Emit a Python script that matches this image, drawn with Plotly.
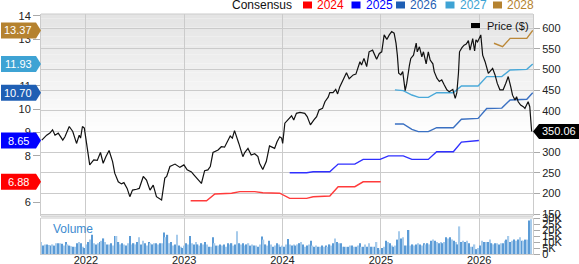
import plotly.graph_objects as go
import pandas as pd

# ---------------- DATA ----------------
price_dates = [
    "2021-07-21", "2021-08-08", "2021-08-20", "2021-08-30", "2021-09-08", "2021-09-20", "2021-10-07",
    "2021-10-15", "2021-10-31", "2021-11-13", "2021-11-27", "2021-12-07", "2021-12-12", "2021-12-19",
    "2021-12-26", "2022-01-03", "2022-01-15", "2022-01-30", "2022-02-12", "2022-02-24", "2022-03-06",
    "2022-03-16", "2022-03-28", "2022-04-10", "2022-04-18", "2022-05-01", "2022-05-13", "2022-05-22",
    "2022-06-03", "2022-06-13", "2022-06-23", "2022-07-08", "2022-07-18", "2022-08-02", "2022-08-14",
    "2022-08-27", "2022-09-08", "2022-09-20", "2022-10-09", "2022-10-21", "2022-10-28", "2022-11-09",
    "2022-11-28", "2022-12-16", "2022-12-31", "2023-01-12", "2023-01-28", "2023-02-06", "2023-02-22",
    "2023-03-06", "2023-03-18", "2023-03-30", "2023-04-08", "2023-04-18", "2023-05-07", "2023-05-19",
    "2023-05-31", "2023-06-09", "2023-06-21", "2023-06-29", "2023-07-07", "2023-07-23", "2023-08-07",
    "2023-08-14", "2023-08-26", "2023-09-07", "2023-09-20", "2023-10-02", "2023-10-08", "2023-10-20",
    "2023-11-02", "2023-11-14", "2023-11-27", "2023-12-03", "2023-12-12", "2023-12-22", "2023-12-29",
    "2024-01-02", "2024-01-10", "2024-01-22", "2024-02-04", "2024-02-12", "2024-02-22", "2024-03-06",
    "2024-03-24", "2024-04-02", "2024-04-14", "2024-04-27", "2024-05-07", "2024-05-16", "2024-05-29",
    "2024-06-07", "2024-06-19", "2024-06-25", "2024-07-07", "2024-07-17", "2024-07-24", "2024-08-01",
    "2024-08-14", "2024-08-26", "2024-09-05", "2024-09-20", "2024-09-30", "2024-10-15", "2024-10-21",
    "2024-10-30", "2024-11-09", "2024-11-18", "2024-12-01", "2024-12-10", "2024-12-16", "2024-12-26",
    "2025-01-04", "2025-01-13", "2025-01-23", "2025-02-01", "2025-02-10", "2025-02-19", "2025-02-26",
    "2025-03-03", "2025-03-08", "2025-03-16", "2025-03-23", "2025-04-01", "2025-04-07", "2025-04-17",
    "2025-04-22", "2025-05-02", "2025-05-12", "2025-05-16", "2025-05-24", "2025-06-02", "2025-06-08",
    "2025-06-18", "2025-06-26", "2025-07-03", "2025-07-13", "2025-07-18", "2025-07-28", "2025-08-06",
    "2025-08-15", "2025-08-24", "2025-09-03", "2025-09-12", "2025-09-25", "2025-10-04", "2025-10-10",
    "2025-10-16", "2025-10-20", "2025-10-29", "2025-11-06", "2025-11-14", "2025-11-22", "2025-11-28",
    "2025-12-08", "2025-12-15", "2025-12-20", "2025-12-26", "2026-01-01", "2026-01-07", "2026-01-14",
    "2026-01-23", "2026-02-04", "2026-02-13", "2026-02-20", "2026-03-01", "2026-03-09", "2026-03-19",
    "2026-03-31", "2026-04-10", "2026-04-19", "2026-04-28", "2026-05-05", "2026-05-14", "2026-05-20",
    "2026-05-26", "2026-06-04", "2026-06-14", "2026-06-20", "2026-06-26", "2026-07-02", "2026-07-08",
    "2026-07-15",
]
price_vals = [
    329, 341, 346, 354, 341, 346, 329,
    337, 362, 350, 321, 341, 334, 362,
    358, 317, 269, 281, 280, 299, 273,
    289, 304, 277, 249, 228, 223, 226,
    212, 192, 208, 210, 212, 241, 232,
    208, 220, 192, 184, 237, 241, 265,
    271, 263, 269, 257, 252, 245, 233,
    224, 255, 257, 265, 299, 305, 313,
    312, 325, 339, 334, 352, 321, 289,
    299, 309, 293, 296, 289, 273, 258,
    277, 315, 312, 309, 325, 337, 334,
    321, 370, 378, 388, 378, 394, 396,
    394, 386, 366, 378, 386, 402, 406,
    422, 433, 444, 444, 452, 441, 458,
    477, 492, 478, 487, 489, 519, 511,
    527, 507, 543, 547, 535, 525, 539,
    543, 584, 573, 584, 592, 588, 564,
    535, 491, 487, 495, 449, 467, 511,
    527, 535, 564, 543, 555, 531, 543,
    514, 543, 523, 514, 495, 479, 471,
    475, 463, 451, 446, 452, 430, 444,
    491, 543, 553, 559, 562, 570, 547,
    575, 545, 572, 567, 578, 584, 535,
    519, 491, 499, 503, 487, 467, 451,
    451, 467, 483, 459, 438, 426, 434,
    422, 414, 410, 406, 414, 422, 410,
    350.06,
]

eps_years = ["2024", "2025", "2026", "2027", "2028"]
eps_2024_dates = ["2023-01-25", "2023-03-25", "2023-04-25", "2023-06-26", "2023-07-27", "2023-09-20",
                  "2023-10-20", "2023-12-22", "2024-01-28", "2024-03-31", "2024-04-24", "2024-06-25",
                  "2024-07-26", "2024-09-26", "2024-10-27", "2024-12-31"]
eps_2024 = [6.07, 6.07, 6.36, 6.39, 6.46, 6.46, 6.41, 6.39, 6.17, 6.17, 6.24, 6.27, 6.67, 6.67, 6.88, 6.88]
eps_2025_dates = ["2024-01-28", "2024-03-31", "2024-04-24", "2024-06-25", "2024-07-26", "2024-09-26",
                  "2024-10-27", "2024-12-29", "2025-01-29", "2025-03-25", "2025-04-26", "2025-06-26",
                  "2025-07-27", "2025-09-27", "2025-10-27", "2025-12-31"]
eps_2025 = [7.27, 7.27, 7.31, 7.31, 7.64, 7.64, 7.84, 7.84, 7.99, 7.99, 7.84, 7.84, 8.17, 8.17, 8.58, 8.65]
eps_2026_dates = ["2025-02-22", "2025-03-25", "2025-04-26", "2025-05-20", "2025-06-26", "2025-07-27",
                  "2025-09-27", "2025-10-27", "2025-12-28", "2026-01-29", "2026-03-26", "2026-04-26",
                  "2026-06-27", "2026-07-19"]
eps_2026 = [9.36, 9.36, 9.13, 9.03, 9.03, 9.20, 9.20, 9.56, 9.60, 10.02, 10.04, 10.39, 10.42, 10.70]
eps_2027_dates = ["2025-02-22", "2025-03-25", "2025-04-26", "2025-05-22", "2025-06-26", "2025-07-27",
                  "2025-09-27", "2025-10-27", "2025-12-28", "2026-01-29", "2026-03-26", "2026-04-26",
                  "2026-06-27", "2026-07-19"]
eps_2027 = [10.82, 10.79, 10.60, 10.50, 10.50, 10.70, 10.70, 10.99, 10.99, 11.39, 11.39, 11.67, 11.70, 11.93]
eps_2028_dates = ["2026-02-25", "2026-03-29", "2026-04-26", "2026-06-27", "2026-07-19"]
eps_2028 = [12.82, 12.67, 13.03, 13.03, 13.37]

volume_start = "2021-07-19"   # weekly bars
volume_k = [
    10, 7, 8, 8, 7.5, 7, 8, 7, 9, 9,
    9, 8.5, 7, 10, 8, 7, 6.5, 6, 6, 9,
    10, 9, 6, 5, 8, 10, 12, 16, 9, 8,
    9, 10, 11, 13, 10, 8, 8, 9, 7, 15,
    15, 10, 8, 9, 8, 7, 9, 15, 8, 9,
    8, 10, 14, 8, 11, 9, 7, 10, 9, 8,
    9, 9, 8, 9, 9, 18, 14, 16, 9, 10,
    7, 8, 16, 7, 6, 5, 7, 9, 8, 15,
    9, 8, 10, 8, 7, 9, 8, 10, 8, 6,
    6, 14, 9, 7, 7, 8, 7, 8, 6, 9,
    8, 9, 7, 8, 19, 9, 8, 9, 7, 8,
    9, 7, 8, 7, 7, 6, 8, 14.5, 12, 8,
    7, 11, 8, 6, 7, 9, 8, 6, 7, 6,
    8, 12.6, 8, 7, 8, 7, 8, 9, 10, 8,
    6, 7, 8, 11, 7, 6, 7, 6, 6, 7,
    6, 7, 6, 8, 7, 9, 13, 10, 9, 9,
    6, 6, 6, 6, 7, 7, 6, 6, 7, 9,
    6, 6, 8, 6, 9, 6, 6, 6, 10, 5,
    3.5, 5, 6, 11, 10, 9, 7, 6, 7, 12,
    19, 13, 14, 7, 7, 20, 7, 8, 7, 8,
    9, 8, 7, 9, 8, 9, 8, 11, 12, 11,
    10, 9, 10, 9, 10, 14, 13, 14, 12, 11,
    10, 8, 23, 10, 11, 10, 11, 9, 6, 6,
    8, 4, 5, 7, 11, 10, 10, 10, 12, 9,
    8, 9, 9, 8, 9, 9, 11, 12, 15, 10,
    11, 12, 11, 12, 14, 11, 11, 12, 12, 28,
    29,
]
volume_ticks = [0, 5, 10, 15, 20, 25, 30]
volume_ticktext = ["0", "5K", "10K", "15K", "20K", "25K", "30K"]

# ---------------- STYLE / LAYOUT ----------------
W, H = 579, 264
L, R, T, B = 41, 46, 14, 10
PW, PH = W - L - R, H - T - B


def fx(px):
    return (px - L) / PW


def fy(py):
    return (H - B - py) / PH


FONT = "Liberation Sans, Arial, sans-serif"
GRID = "#cbcbcb"
colors = {"2024": "#ff0000", "2025": "#0000ff", "2026": "#1f5fb4", "2027": "#3ea3d4", "2028": "#b5822f"}
line_colors = {"2024": "#ff3b3b", "2025": "#3030ff", "2026": "#3a70c2", "2027": "#4aa9d9", "2028": "#bb8838"}
eps_series = {
    "2024": (eps_2024_dates, eps_2024),
    "2025": (eps_2025_dates, eps_2025),
    "2026": (eps_2026_dates, eps_2026),
    "2027": (eps_2027_dates, eps_2027),
    "2028": (eps_2028_dates, eps_2028),
}

fig = go.Figure()

# volume bars
vol_dates = pd.date_range(volume_start, periods=len(volume_k), freq="7D")
bar_cols = ["#5b9bd6" if i % 2 else "#a7cbeb" for i in range(len(volume_k))]
fig.add_trace(go.Bar(x=vol_dates, y=volume_k, marker=dict(color=bar_cols, line_width=0),
                     xaxis="x", yaxis="y3", hoverinfo="skip"))

# consensus lines
for yr in eps_years:
    d, v = eps_series[yr]
    fig.add_trace(go.Scatter(x=d, y=v, mode="lines", line=dict(color=line_colors[yr], width=1.4),
                             xaxis="x", yaxis="y", hoverinfo="skip"))

# price
fig.add_trace(go.Scatter(x=price_dates, y=price_vals, mode="lines", line=dict(color="#111111", width=1.2),
                         xaxis="x", yaxis="y2", hoverinfo="skip"))

shapes = []
# gradient background of price panel
gt, gb, n = 14, 140, 28
for k in range(n):
    y0p = gt + (gb - gt) * k / n
    y1p = gt + (gb - gt) * (k + 1) / n
    t = (k + 0.5) / n
    c = int(round(228 + (255 - 228) * t))
    shapes.append(dict(type="rect", xref="paper", yref="paper", x0=0, x1=1, y0=fy(y1p), y1=fy(y0p),
                       fillcolor=f"rgb({c},{c},{c})", line_width=0, layer="below"))
# separator band between panels
shapes.append(dict(type="rect", xref="paper", yref="paper", x0=0, x1=1, y0=fy(219), y1=fy(216),
                   fillcolor="#e4e4e4", line_width=0, layer="below"))
shapes.append(dict(type="line", xref="paper", yref="paper", x0=0, x1=1, y0=fy(216), y1=fy(216),
                   line=dict(color=GRID, width=1)))
# top border
shapes.append(dict(type="line", xref="paper", yref="paper", x0=0, x1=1, y0=1, y1=1,
                   line=dict(color=GRID, width=1)))

annotations = []
# left badges (consensus latest values)
for yr in eps_years:
    val = eps_series[yr][1][-1]
    shapes.append(dict(type="path", xref="paper", yref="y", xsizemode="pixel", ysizemode="pixel",
                       xanchor=0, yanchor=val, path="M-40,-8 L-5,-8 L0,0 L-5,8 L-40,8 Z",
                       fillcolor=colors[yr], line_width=0, layer="above"))
    annotations.append(dict(x=0, xref="paper", y=val, yref="y", xshift=-23, text=f"{val:.2f}",
                            showarrow=False, xanchor="center", yanchor="middle",
                            font=dict(color="white", size=11, family=FONT)))
# right price badge
last_price = price_vals[-1]
shapes.append(dict(type="path", xref="paper", yref="y2", xsizemode="pixel", ysizemode="pixel",
                   xanchor=1, yanchor=last_price, path="M0,0 L6,7.5 L46,7.5 L46,-7.5 L6,-7.5 Z",
                   fillcolor="#000000", line_width=0, layer="above"))
annotations.append(dict(x=1, xref="paper", y=last_price, yref="y2", xshift=26, text=f"{last_price:.2f}",
                        showarrow=False, xanchor="center", yanchor="middle",
                        font=dict(color="white", size=11, family=FONT)))

# top legend
annotations.append(dict(x=fx(230), xref="paper", y=fy(5), yref="paper", text="Consensus", showarrow=False,
                        xanchor="left", yanchor="middle", font=dict(color="#111", size=12, family=FONT)))
leg_sq = {"2024": 303, "2025": 351.5, "2026": 396, "2027": 445.5, "2028": 493}
for yr in eps_years:
    x0 = leg_sq[yr]
    shapes.append(dict(type="rect", xref="paper", yref="paper", x0=fx(x0), x1=fx(x0 + 9),
                       y0=fy(8.5), y1=fy(1.5), fillcolor=colors[yr], line_width=0))
    annotations.append(dict(x=fx(x0 + 12), xref="paper", y=fy(5), yref="paper", text=yr, showarrow=False,
                            xanchor="left", yanchor="middle", font=dict(color=colors[yr], size=12, family=FONT)))
# price legend
shapes.append(dict(type="rect", xref="paper", yref="paper", x0=fx(471), x1=fx(480), y0=fy(28), y1=fy(23),
                   fillcolor="#000", line_width=0))
annotations.append(dict(x=fx(484.5), xref="paper", y=fy(25.5), yref="paper", text="Price ($)", showarrow=False,
                        xanchor="left", yanchor="middle", font=dict(color="#111", size=11, family=FONT)))
# volume label
annotations.append(dict(x=fx(50.5), xref="paper", y=fy(228.5), yref="paper", text="Volume", showarrow=False,
                        xanchor="left", yanchor="middle", font=dict(color="#3d8bd0", size=12, family=FONT)))

fig.update_layout(
    width=W, height=H, margin=dict(l=L, r=R, t=T, b=B, autoexpand=False),
    paper_bgcolor="white", plot_bgcolor="rgba(0,0,0,0)", showlegend=False,
    font=dict(family=FONT, size=11, color="#222"), bargap=0.3,
    xaxis=dict(domain=[0, 1], anchor="y3", type="date", range=["2021-07-18", "2026-07-20"],
               dtick="M12", tick0="2022-01-01", tickformat="%Y", showgrid=True, gridcolor=GRID,
               ticks="", showline=True, linecolor=GRID, zeroline=False, automargin=False,
               ticklabelstandoff=-4, tickfont=dict(size=11, color="#222")),
    yaxis=dict(domain=[fy(216), 1], anchor="x", range=[5.415, 14.073], dtick=1, tick0=0,
               ticks="outside", ticklen=7, tickcolor="#aaaaaa", showgrid=False, zeroline=False,
               showline=True, linecolor=GRID, automargin=False, tickfont=dict(size=11, color="#222")),
    yaxis2=dict(overlaying="y", side="right", anchor="x", range=[145.2, 634.6], dtick=50, tick0=0,
                ticks="outside", ticklen=6, tickcolor="#aaaaaa", showgrid=True, gridcolor=GRID,
                zeroline=False, showline=True, linecolor=GRID, automargin=False,
                tickfont=dict(size=11, color="#222")),
    yaxis3=dict(domain=[0, fy(218)], anchor="x", side="right", range=[0, 30], tickvals=volume_ticks,
                ticktext=volume_ticktext, ticks="outside", ticklen=6, tickcolor="#aaaaaa", showgrid=False,
                zeroline=False, showline=True, mirror=True, linecolor=GRID, automargin=False,
                tickfont=dict(size=11, color="#222")),
    shapes=shapes, annotations=annotations,
)

fig.write_html("out.html")
